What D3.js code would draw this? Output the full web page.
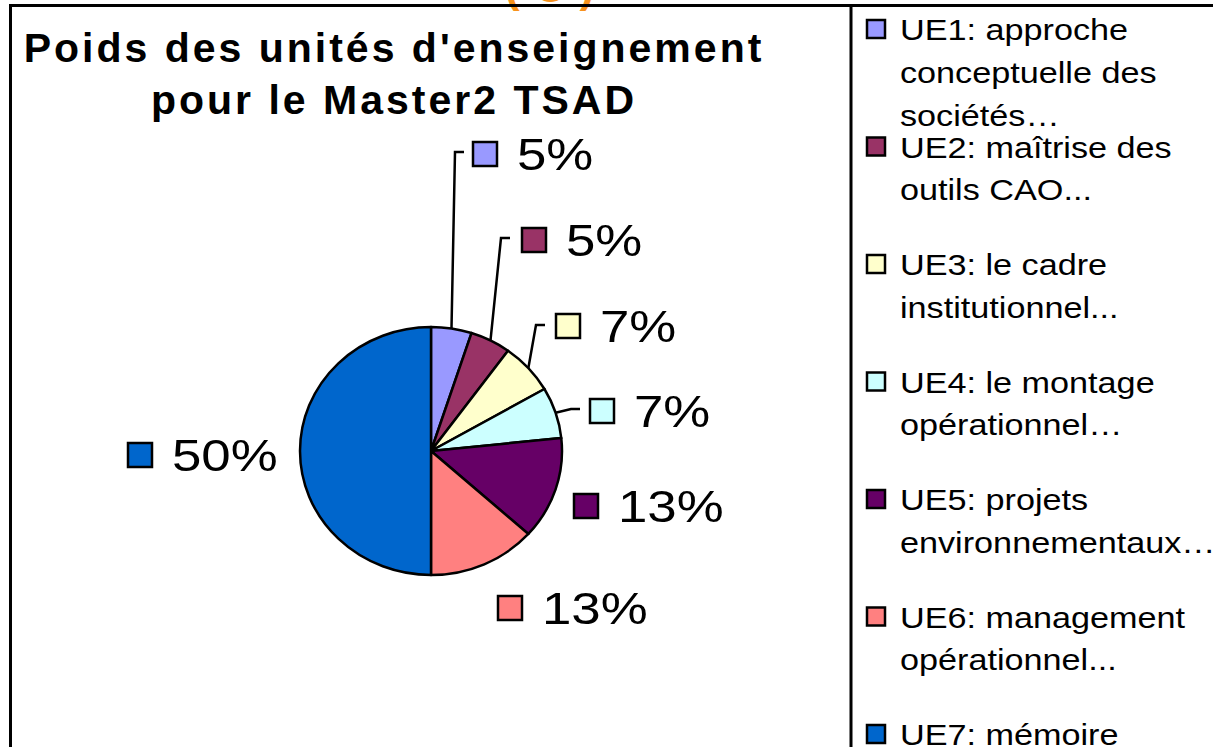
<!DOCTYPE html>
<html>
<head>
<meta charset="utf-8">
<script src="https://cdn.jsdelivr.net/npm/d3@7/dist/d3.min.js"></script>
<style>
  html, body { margin: 0; padding: 0; background: #fff; }
  svg { display: block; }
</style>
</head>
<body>
<div id="chart"></div>
<script>
// ECTS credits per teaching unit (shown as share of 60)
const units = ['UE1', 'UE2', 'UE3', 'UE4', 'UE5', 'UE6', 'UE7'];
const credits = [3, 3, 4, 4, 8, 8, 30];
const pctLabels = ['5%', '5%', '7%', '7%', '13%', '13%', '50%'];
const legendLabels = [
  ['UE1: approche', 'conceptuelle des', 'sociétés…'],
  ['UE2: maîtrise des', 'outils CAO...'],
  ['UE3: le cadre', 'institutionnel...'],
  ['UE4: le montage', 'opérationnel…'],
  ['UE5: projets', 'environnementaux…'],
  ['UE6: management', 'opérationnel...'],
  ['UE7: mémoire']
];
const colours = ['#9999ff', '#993366', '#ffffcc', '#ccffff', '#660066', '#ff8080', '#0066cc'];

const W = 1213, H = 747;
const cent = { x: 431, y: 451 };
const rx = 131, ry = 124;

// where each percentage label sits (box left, box middle) and leader elbow
const labelPos = [
  { x: 473, y: 154, elbow: [455, 152] },
  { x: 522, y: 240, elbow: [501, 238] },
  { x: 556, y: 326, elbow: [536, 325] },
  { x: 590, y: 411, elbow: [571, 409] },
  { x: 574, y: 506, elbow: null },
  { x: 498, y: 608, elbow: null },
  { x: 128, y: 455, elbow: null }
];

const svg = d3.select('#chart')
  .append('svg')
  .attr('width', W)
  .attr('height', H)
  .style('font-family', '"Liberation Sans", Arial, sans-serif');

// orange mark cut off at the top
svg.append('text')
  .attr('x', 505)
  .attr('y', 2)
  .attr('fill', '#f7931e')
  .attr('font-size', 44)
  .attr('font-weight', 'bold')
  .attr('letter-spacing', 14)
  .text('(C)');

// frame
svg.append('rect')
  .attr('x', 10.5).attr('y', 5.5)
  .attr('width', W + 20).attr('height', H + 20)
  .attr('fill', 'none')
  .attr('stroke', '#000')
  .attr('stroke-width', 3);

svg.append('line')
  .attr('x1', 851).attr('x2', 851)
  .attr('y1', 5).attr('y2', H)
  .attr('stroke', '#000')
  .attr('stroke-width', 3);

// title
const title = svg.append('text')
  .attr('text-anchor', 'middle')
  .attr('font-size', 41)
  .attr('font-weight', 'bold')
  .attr('letter-spacing', 3)
  .attr('fill', '#000');
title.append('tspan').attr('x', 394).attr('y', 62).text("Poids des unités d'enseignement");
title.append('tspan').attr('x', 394).attr('y', 114).text('pour le Master2 TSAD');

// pie
const pie = d3.pie().sort(null).value(d => d);
const arcs = pie(credits);
const arcPath = d3.arc().innerRadius(0).outerRadius(ry);

const graph = svg.append('g')
  .attr('transform', `translate(${cent.x}, ${cent.y}) scale(${rx / ry}, 1)`);

graph.selectAll('path')
  .data(arcs)
  .enter()
  .append('path')
  .attr('d', arcPath)
  .attr('fill', (d, i) => colours[i])
  .attr('stroke', '#000')
  .attr('stroke-width', 2.5)
  .attr('stroke-linejoin', 'round')
  .attr('vector-effect', 'non-scaling-stroke');

// leader lines
const edgePoint = (d) => {
  const a = (d.startAngle + d.endAngle) / 2;
  return [cent.x + rx * Math.sin(a), cent.y - ry * Math.cos(a)];
};

arcs.forEach((d, i) => {
  const p = labelPos[i];
  if (!p.elbow) return;
  const e = edgePoint(d);
  svg.append('polyline')
    .attr('points', [e, p.elbow, [p.elbow[0] + 9, p.elbow[1]]].map(q => q.join(',')).join(' '))
    .attr('fill', 'none')
    .attr('stroke', '#000')
    .attr('stroke-width', 2.5);
});

// percentage labels
const labels = svg.selectAll('g.lab')
  .data(arcs)
  .enter()
  .append('g')
  .attr('class', 'lab')
  .attr('transform', (d, i) => `translate(${labelPos[i].x}, ${labelPos[i].y})`);

labels.append('rect')
  .attr('x', 0).attr('y', -12)
  .attr('width', 24).attr('height', 24)
  .attr('fill', (d, i) => colours[i])
  .attr('stroke', '#000')
  .attr('stroke-width', 2.5);

labels.append('text')
  .attr('transform', 'translate(44, 16) scale(1.2, 1)')
  .attr('font-size', 44)
  .attr('fill', '#000')
  .text((d, i) => pctLabels[i]);

// legend
const legend = svg.selectAll('g.leg')
  .data(units)
  .enter()
  .append('g')
  .attr('class', 'leg')
  .attr('transform', (d, i) => `translate(866, ${40 + i * 117.5})`);

legend.append('rect')
  .attr('x', 1).attr('y', -20)
  .attr('width', 18).attr('height', 18)
  .attr('fill', (d, i) => colours[i])
  .attr('stroke', '#000')
  .attr('stroke-width', 2.5);

legend.each(function (d, i) {
  const t = d3.select(this).append('text')
    .attr('transform', 'translate(34, 0) scale(1.14, 1)')
    .attr('font-size', 30)
    .attr('fill', '#000');
  legendLabels[i].forEach((line, j) => {
    t.append('tspan').attr('x', 0).attr('y', j * 43).text(line);
  });
});
</script>
</body>
</html>
